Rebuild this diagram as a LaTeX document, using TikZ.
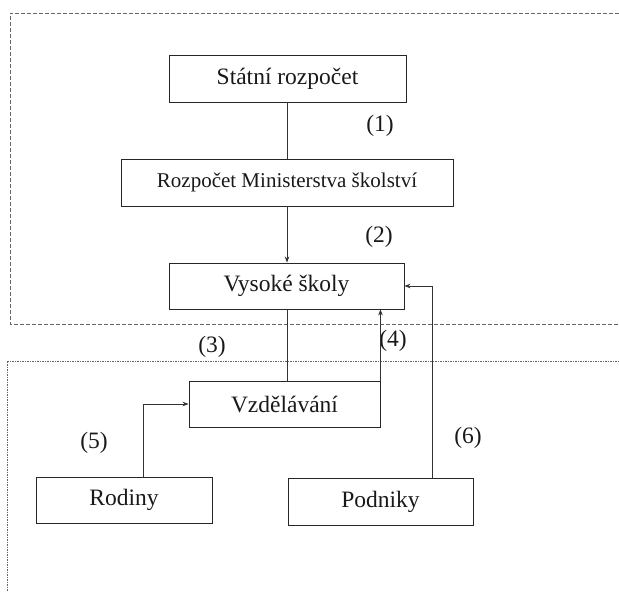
\documentclass[tikz,border=0pt]{standalone}
\usepackage{fontspec}
\setmainfont{Liberation Serif}
\usetikzlibrary{arrows.meta}

\tikzset{
  box/.style={draw=black!85, line width=0.9pt, inner sep=0pt, text=black!90},
  num/.style={inner sep=0pt, text=black!90},
  flow/.style={draw=black!80, line width=0.7pt},
  arr/.style={flow, -{Stealth[length=6pt,width=4.5pt]}}
}

\begin{document}
\begin{tikzpicture}[x=1pt, y=-1pt, font=\fontsize{23.5}{28}\selectfont]
  \useasboundingbox (0,0) rectangle (619,592);

  % the two areas
  \draw[black!60, line width=0.6pt, dash pattern=on 4pt off 2pt]
    (619,13) -- (10,13) -- (10,324) -- (619,324);
  \draw[black!60, line width=0.6pt, dash pattern=on 1.5pt off 1pt]
    (619,361) -- (7,361) -- (7,592);

  % boxes
  \node[box, minimum width=237pt, minimum height=47pt] (rozpocet) at (287.5,78.5) {Státní rozpočet};
  \node[box, minimum width=332pt, minimum height=47pt,
        font=\fontsize{21}{25}\selectfont] (ministerstvo) at (287,182.5) {Rozpočet Ministerstva školství};
  \node[box, minimum width=235pt, minimum height=46pt] (vs) at (286.5,286) {Vysoké školy};
  \node[box, minimum width=191pt, minimum height=46pt] (vzdelavani) at (284.5,404) {Vzdělávání};
  \node[box, minimum width=176pt, minimum height=46pt] (rodiny) at (124,500) {Rodiny};
  \node[box, minimum width=185pt, minimum height=47pt] (podniky) at (380.5,501.5) {Podniky};

  % numbers of the flows
  \foreach \n/\x/\y in {1/380/126, 2/379/237, 3/212/347, 4/393/341, 5/94/443, 6/468/438} {
    \node[num] (l\n) at (\x,\y) {(\n)};
  }

  % flows
  \draw[flow] (rozpocet.south -| 287,0) -- (ministerstvo.north -| 287,0);
  \draw[arr] (ministerstvo.south -| 287,0) -- (vs.north -| 287,0);
  \draw[flow] (vs.south -| 287,0) -- (vzdelavani.north -| 287,0);
  \draw[arr] (vzdelavani.north east) -- (vzdelavani.north east |- vs.south);
  \draw[arr] ([xshift=19pt]rodiny.north) |- (vzdelavani.west);
  \draw[arr] ([xshift=51.5pt]podniky.north) |- (vs.east);
\end{tikzpicture}
\end{document}
